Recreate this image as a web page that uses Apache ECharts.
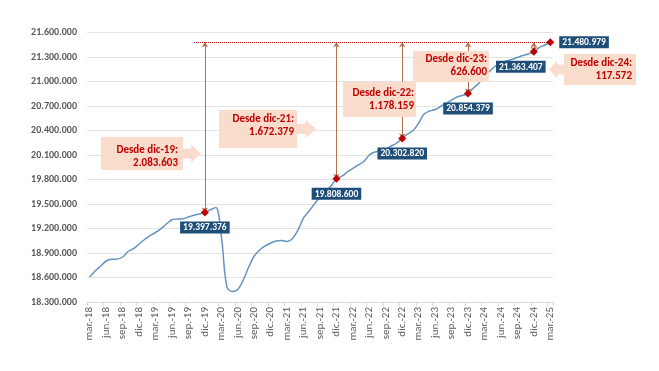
<!DOCTYPE html>
<html><head><meta charset="utf-8">
<script src="https://cdn.jsdelivr.net/npm/echarts@6/dist/echarts.min.js"></script>
<style>html,body{margin:0;padding:0;background:#fff}#c{width:659px;height:371px}</style>
</head><body><div id="c"></div>
<script>
const monthNames = ['ene.','feb.','mar.','abr.','may.','jun.','jul.','ago.','sep.','oct.','nov.','dic.'];
const categories = [];
for (let y = 18; y <= 25; y++) {
  for (let m = 0; m < 12; m++) {
    if (y === 18 && m < 2) continue;
    if (y === 25 && m > 2) continue;
    categories.push(monthNames[m] + '-' + y);
  }
}
// Afiliados (monthly, mar.-18 .. mar.-25)
const afiliados = [
  18606000,18680000,18741000,18802000,18823000,18825000,18851000,18918000,18955000,19010000,
  19065000,19114000,19151000,19198000,19255000,19307000,19316000,19320000,19341000,19362000,
  19378000,19397376,19429000,19458000,19110000,18487000,18429000,18453000,18569000,18729000,
  18863000,18937000,18986000,19022000,19047000,19053000,19041000,19078000,19182000,19329000,
  19414000,19500000,19586000,19653000,19720000,19808600,19840000,19892000,19935000,19978000,
  20020000,20100000,20137000,20145000,20173000,20210000,20247000,20302820,20357000,20400000,
  20492000,20602000,20639000,20657000,20694000,20731000,20773000,20810000,20829000,20854379,
  20920000,20982000,21067000,21129000,21190000,21227000,21251000,21269000,21294000,21318000,
  21337000,21363407,21416000,21447000,21480979
];
const highlightCats = ['dic.-19','dic.-21','dic.-22','dic.-23','dic.-24','mar.-25'];
const highlightValues = [19397376,19808600,20302820,20854379,21363407,21480979];
const calloutTexts = [
  'Desde dic-19:\n2.083.603',
  'Desde dic-21:\n1.672.379',
  'Desde dic-22:\n1.178.159',
  'Desde dic-23:\n626.600',
  'Desde dic-24:\n117.572'
];
const yMin = 18300000, yMax = 21600000, yStep = 300000;

function fmt(v){ return String(Math.round(v)).replace(/\B(?=(\d{3})+(?!\d))/g, '.'); }

const lastVal = highlightValues[highlightValues.length - 1];
const lastCat = highlightCats[highlightCats.length - 1];

const scatterData = highlightCats.map((c, i) => {
  const item = { value: [c, highlightValues[i]] };
  if (i === highlightCats.length - 1) {
    item.label = { position: 'right', distance: 5 };
  } else if (i === highlightCats.length - 2) {
    item.label = { position: 'bottom', distance: 5, offset: [-13, 0] };
  }
  return item;
});

const arrowLines = highlightCats.slice(0, 5).map((c, i) => [
  { coord: [c, lastVal] },
  { coord: [c, highlightValues[i]] }
]);

const FILL = '#f9dccb';
const TXT = '#c00000';
const FONT = 'bold 11px Carlito, Lato, sans-serif';
function rightCallout(x1, y1, x2, y2, tip) {
  const cy = (y1 + y2) / 2;
  const sx = x2 + (tip - x2) * 0.45;
  return [[x1,y1],[x2,y1],[x2,cy-5],[sx,cy-5],[sx,cy-9],[tip,cy],[sx,cy+9],[sx,cy+5],[x2,cy+5],[x2,y2],[x1,y2]];
}
function leftCallout(x1, y1, x2, y2, tip) {
  const cy = (y1 + y2) / 2;
  const sx = x1 - (x1 - tip) * 0.45;
  return [[x2,y1],[x1,y1],[x1,cy-5],[sx,cy-5],[sx,cy-9],[tip,cy],[sx,cy+9],[sx,cy+5],[x1,cy+5],[x1,y2],[x2,y2]];
}
const boxes = [
  { pts: rightCallout(101,137,183,170,201), tx: 178, ty: 157 },
  { pts: rightCallout(219,110,297,148,316), tx: 294, ty: 126 },
  { pts: [[343,82],[416,82],[416,117],[343,117]], tx: 414, ty: 100 },
  { pts: [[413,51],[489,51],[489,82],[413,82]], tx: 487, ty: 66 },
  { pts: leftCallout(564,54,636,85,549), tx: 632, ty: 70 }
];
const graphics = [];
boxes.forEach((b, i) => {
  graphics.push({ type: 'polygon', z: 100, shape: { points: b.pts }, style: { fill: FILL } });
  graphics.push({ type: 'text', z: 101, x: b.tx, y: b.ty,
    style: { text: calloutTexts[i], fill: TXT, font: FONT, align: 'right', verticalAlign: 'middle', lineHeight: 13 } });
});

const chart = echarts.init(document.getElementById('c'), null, { renderer: 'canvas' });
chart.setOption({
  animation: false,
  backgroundColor: '#fff',
  grid: { left: 87, right: 106, top: 32.5, bottom: 69, containLabel: false, outerBoundsMode: 'none' },
  xAxis: {
    type: 'category', data: categories, boundaryGap: true,
    axisLine: { lineStyle: { color: '#d9d9d9' } },
    axisTick: { show: true, interval: 2, length: 4, lineStyle: { color: '#d9d9d9' } },
    axisLabel: { interval: 2, rotate: 90, fontSize: 11, color: '#595959', margin: 5, fontFamily: 'Carlito, Lato, sans-serif' }
  },
  yAxis: {
    type: 'value', min: yMin, max: yMax, interval: yStep,
    axisLine: { show: false }, axisTick: { show: false },
    splitLine: { lineStyle: { color: '#e3e3e3' } },
    axisLabel: { formatter: fmt, fontSize: 10, color: '#595959', fontWeight: 'bold', margin: 10, fontFamily: 'Carlito, Lato, sans-serif' }
  },
  series: [
    {
      type: 'line', data: afiliados, smooth: 0.35, showSymbol: false, z: 3,
      lineStyle: { color: '#6493c2', width: 1.5 },
      markLine: {
        silent: true, symbol: 'none', z: 2,
        label: { show: false },
        lineStyle: { color: '#c00000', type: 'dotted', width: 1 },
        data: [[ { coord: ['oct.-19', lastVal] }, { coord: [lastCat, lastVal] } ]]
      }
    },
    {
      type: 'scatter', data: scatterData, symbol: 'diamond', symbolSize: 8, z: 5,
      itemStyle: { color: '#c00000', opacity: 1 },
      label: {
        show: true, position: 'bottom', distance: 5,
        formatter: p => fmt(p.value[1]),
        color: '#fff', backgroundColor: '#1f4e79', fontWeight: 'bold', fontSize: 9.5,
        fontFamily: 'Carlito, Lato, sans-serif', padding: [2, 3, 1, 3], lineHeight: 9
      },
      markLine: {
        silent: true, symbol: ['arrow', 'arrow'], symbolSize: 5, z: 1,
        label: { show: false },
        lineStyle: { color: '#b3704d', type: 'solid', width: 1, opacity: 1 },
        data: arrowLines
      }
    }
  ],
  graphic: graphics
});
</script>
</body></html>
